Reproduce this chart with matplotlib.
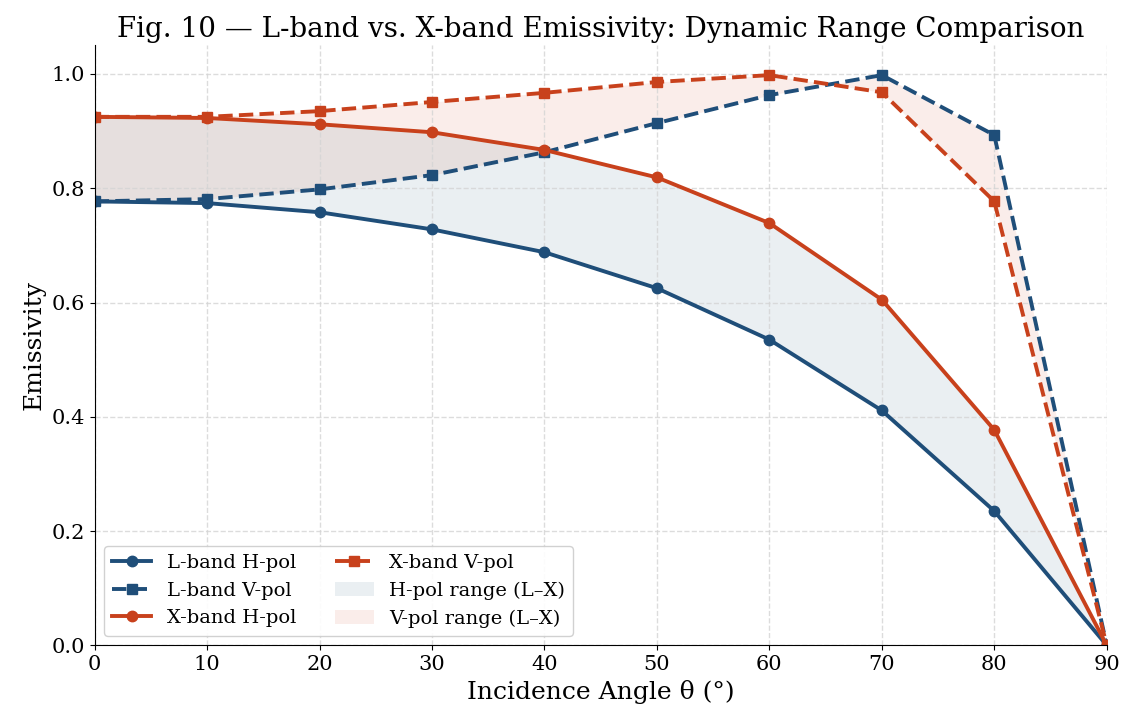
import numpy as np
import matplotlib.pyplot as plt

plt.rcParams['font.family'] = 'DejaVu Serif'

angles = [0, 10, 20, 30, 40, 50, 60, 70, 80, 90]
l_h = [0.777, 0.774, 0.758, 0.728, 0.688, 0.625, 0.535, 0.411, 0.235, 0.0]
l_v = [0.777, 0.781, 0.798, 0.823, 0.863, 0.914, 0.963, 0.998, 0.893, 0.0]
x_h = [0.925, 0.923, 0.912, 0.898, 0.867, 0.819, 0.739, 0.605, 0.377, 0.0]
x_v = [0.925, 0.925, 0.935, 0.951, 0.967, 0.986, 0.998, 0.968, 0.777, 0.0]

blue = '#1f4e79'
red = '#c8411c'

fig = plt.figure(figsize=(11.27, 7.21), dpi=100)
ax = fig.add_axes([0.084, 0.105, 0.898, 0.832])

ax.fill_between(angles, l_h, x_h, color=blue, alpha=0.09, lw=0, label='H-pol range (L–X)')
ax.fill_between(angles, l_v, x_v, color=red, alpha=0.09, lw=0, label='V-pol range (L–X)')

ax.plot(angles, l_h, '-o', color=blue, lw=2.8, ms=7.5, label='L-band H-pol')
ax.plot(angles, l_v, '--s', color=blue, lw=2.8, ms=7.5, label='L-band V-pol')
ax.plot(angles, x_h, '-o', color=red, lw=2.8, ms=7.5, label='X-band H-pol')
ax.plot(angles, x_v, '--s', color=red, lw=2.8, ms=7.5, label='X-band V-pol')

ax.set_xlim(0, 90)
ax.set_ylim(0, 1.05)
ax.set_xticks(range(0, 91, 10))
ax.set_yticks([0, 0.2, 0.4, 0.6, 0.8, 1.0])
ax.tick_params(labelsize=15)
ax.grid(True, ls='--', color='#d4d4d4', alpha=0.8, lw=1)
ax.spines['top'].set_visible(False)
ax.spines['right'].set_visible(False)

ax.set_xlabel('Incidence Angle θ (°)', fontsize=18)
ax.set_ylabel('Emissivity', fontsize=18)
ax.set_title('Fig. 10 — L-band vs. X-band Emissivity: Dynamic Range Comparison', fontsize=20)

h, l = ax.get_legend_handles_labels()
order = [2, 3, 4, 5, 0, 1]
ax.legend([h[i] for i in order], [l[i] for i in order], ncol=2, loc='lower left',
          fontsize=14, framealpha=0.9)

fig.savefig('out.png', dpi=100)
